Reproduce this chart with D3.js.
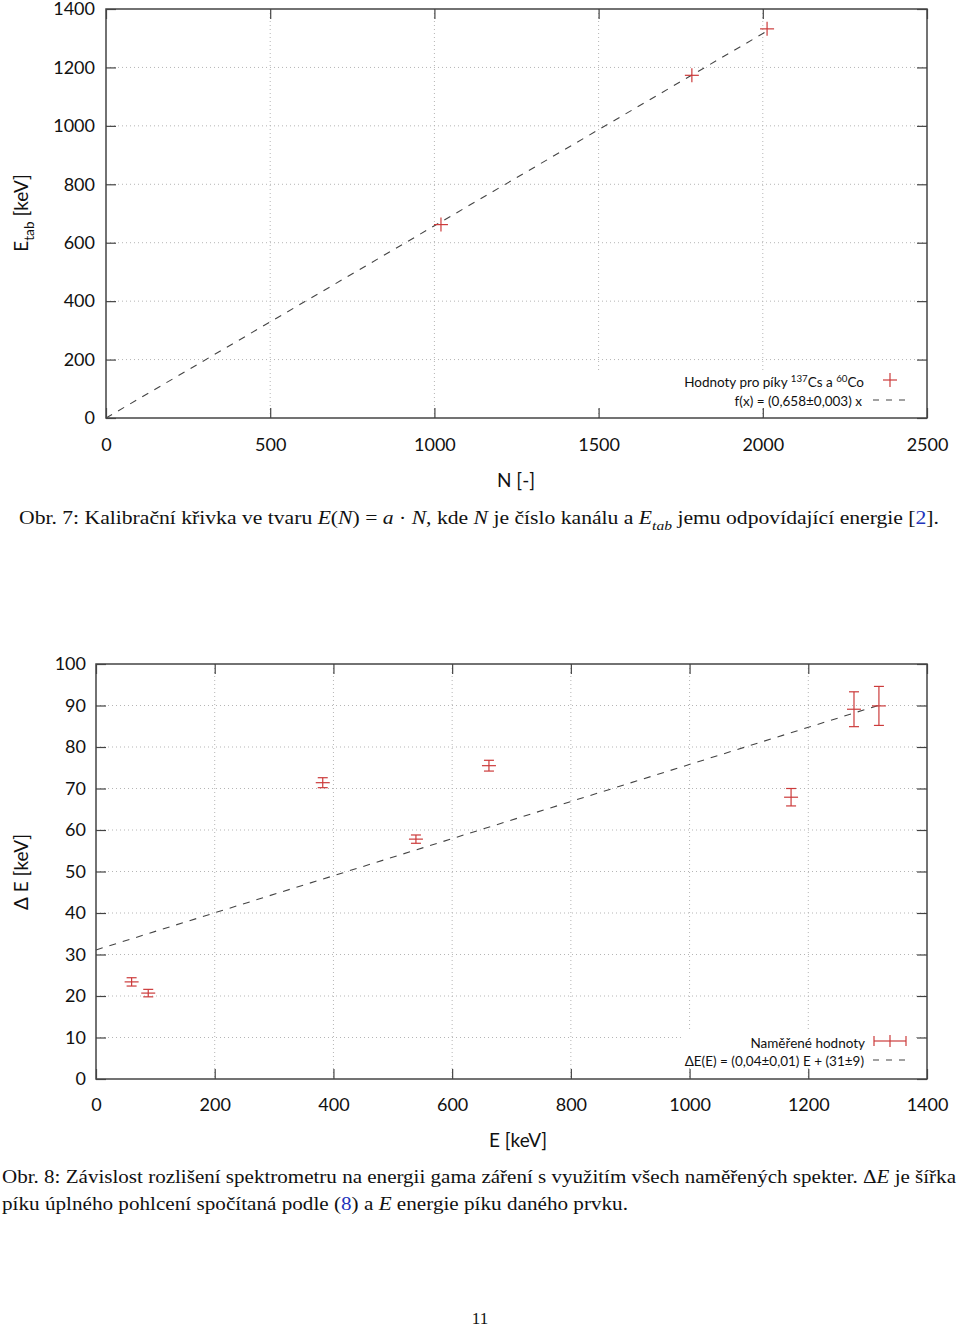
<!DOCTYPE html>
<html>
<head>
<meta charset="utf-8">
<style>
  body { margin: 0; background: #fff; }
  svg { display: block; }
</style>
</head>
<body></body>
<script src="https://d3js.org/d3.v7.min.js"></script>
<script>
  // --- data: calibration (Obr. 7) ---
  const channels = [1020, 1784, 2013]
  const energiesTab = [662, 1173, 1332]
  const calibSlope = 0.658
  const calibXTicks = [0, 500, 1000, 1500, 2000, 2500]
  const calibYTicks = [0, 200, 400, 600, 800, 1000, 1200, 1400]

  // --- data: resolution (Obr. 8) ---
  const energies = [60, 88, 382, 539, 662, 1171, 1277, 1319]
  const peakWidths = [23.4, 20.7, 71.4, 57.8, 75.5, 67.9, 89.1, 89.9]
  const peakWidthErrs = [1.0, 0.9, 1.2, 1.0, 1.3, 2.1, 4.2, 4.7]
  const resSlope = 0.0447
  const resIntercept = 31.1
  const resXTicks = [0, 200, 400, 600, 800, 1000, 1200, 1400]
  const resYTicks = [0, 10, 20, 30, 40, 50, 60, 70, 80, 90, 100]

  const W = 960, H = 1328
  const red = '#cc3b3b'
  const axisCol = '#444'
  const gridCol = '#b5b5b5'
  const sans = 'Lato, "Open Sans", sans-serif'
  const serif = '"Liberation Serif", "DejaVu Serif", serif'

  const svg = d3.select('body').append('svg')
    .attr('width', W).attr('height', H)
  svg.append('rect').attr('width', W).attr('height', H).attr('fill', '#fff')

  // rich text helper: segments {t, i, sub, sup, c}
  function richText(parent, x, y, segs, opts) {
    const t = parent.append('text')
      .attr('x', x).attr('y', y)
      .attr('font-family', opts.font)
      .attr('font-size', opts.size)
      .attr('fill', '#111')
      .attr('text-anchor', opts.anchor || 'start')
    if (opts.length) t.attr('textLength', opts.length).attr('lengthAdjust', 'spacingAndGlyphs')
    let shift = 0
    segs.forEach(s => {
      const target = s.sub ? opts.size * 0.3 : s.sup ? -opts.size * 0.4 : 0
      const sp = t.append('tspan').text(s.t).attr('dy', target - shift)
      shift = target
      if (s.i) sp.attr('font-style', 'italic')
      if (s.sub || s.sup) sp.attr('font-size', opts.size * 0.72)
      if (s.c) sp.attr('fill', s.c)
    })
    return t
  }

  function plusMark(g, cx, cy, s) {
    g.append('line').attr('x1', cx - s).attr('x2', cx + s).attr('y1', cy).attr('y2', cy)
    g.append('line').attr('x1', cx).attr('x2', cx).attr('y1', cy - s).attr('y2', cy + s)
  }

  function frame(cfg) {
    const { x, y, xTicks, yTicks, xPad, yPad } = cfg
    const [l, r] = x.range()
    const [b, t] = y.range()
    const g = svg.append('g')
    const fmt = d3.format('d')

    // grid
    const grid = g.append('g').attr('stroke', gridCol).attr('stroke-width', 1)
      .attr('stroke-dasharray', '1,3')
    xTicks.slice(1, -1).forEach(v => grid.append('line')
      .attr('x1', x(v)).attr('x2', x(v)).attr('y1', t).attr('y2', b))
    yTicks.slice(1, -1).forEach(v => grid.append('line')
      .attr('x1', l).attr('x2', r).attr('y1', y(v)).attr('y2', y(v)))

    // legend background hides the grid
    g.append('rect').attr('x', cfg.legendBox[0]).attr('y', cfg.legendBox[1])
      .attr('width', cfg.legendBox[2]).attr('height', cfg.legendBox[3]).attr('fill', '#fff')

    // axes with labels, inward ticks
    g.append('g').attr('transform', `translate(0,${b})`)
      .call(d3.axisBottom(x).tickValues(xTicks).tickSize(-10).tickPadding(xPad).tickFormat(fmt))
      .call(a => a.select('.domain').remove())
    g.append('g').attr('transform', `translate(${l},0)`)
      .call(d3.axisLeft(y).tickValues(yTicks).tickSize(-10).tickPadding(yPad).tickFormat(fmt))
      .call(a => a.select('.domain').remove())
    g.append('g').attr('transform', `translate(0,${t})`)
      .call(d3.axisTop(x).tickValues(xTicks).tickSize(-10).tickFormat(''))
      .call(a => a.select('.domain').remove())
    g.append('g').attr('transform', `translate(${r},0)`)
      .call(d3.axisRight(y).tickValues(yTicks).tickSize(-10).tickFormat(''))
      .call(a => a.select('.domain').remove())
    g.selectAll('.tick line').attr('stroke', axisCol).attr('stroke-width', 1.2)
    g.selectAll('.tick text').attr('font-family', sans).attr('font-size', 18).attr('fill', '#111')

    g.append('rect').attr('x', l).attr('y', t).attr('width', r - l).attr('height', b - t)
      .attr('fill', 'none').attr('stroke', axisCol).attr('stroke-width', 1.5)
    return g
  }

  // ================= Obr. 7 =================
  const x1 = d3.scaleLinear().domain([0, 2500]).range([106, 927])
  const y1 = d3.scaleLinear().domain([0, 1400]).range([418, 9])
  const g1 = frame({ x: x1, y: y1, xTicks: calibXTicks, yTicks: calibYTicks, xPad: 20, yPad: 11,
    legendBox: [596, 372, 318, 34] })

  const fit1 = d3.line().x(d => x1(d)).y(d => y1(calibSlope * d))
  g1.append('path').attr('d', fit1([0, d3.max(channels)]))
    .attr('fill', 'none').attr('stroke', '#444').attr('stroke-width', 1.1)
    .attr('stroke-dasharray', '7,7')

  const pts1 = g1.append('g').attr('stroke', red).attr('stroke-width', 1.2)
  channels.forEach((c, i) => plusMark(pts1, x1(c), y1(energiesTab[i]), 7))

  // legend
  richText(g1, 864, 387, [{ t: 'Hodnoty pro píky ' }, { t: '137', sup: 1 }, { t: 'Cs a ' }, { t: '60', sup: 1 }, { t: 'Co' }],
    { font: sans, size: 13.5, anchor: 'end' })
  richText(g1, 862, 406, [{ t: 'f(x) = (0,658±0,003) x' }], { font: sans, size: 13.5, anchor: 'end' })
  const lg1 = g1.append('g').attr('stroke', red).attr('stroke-width', 1.2)
  plusMark(lg1, 890, 380, 7)
  g1.append('line').attr('x1', 873).attr('x2', 908).attr('y1', 400).attr('y2', 400)
    .attr('stroke', '#444').attr('stroke-width', 1.1).attr('stroke-dasharray', '6,7')

  // axis titles
  richText(svg.append('g').attr('transform', 'translate(28,213) rotate(-90)'), 0, 0,
    [{ t: 'E' }, { t: 'tab', sub: 1 }, { t: ' [keV]' }], { font: sans, size: 19, anchor: 'middle' })
  richText(svg, 516, 487, [{ t: 'N [-]' }], { font: sans, size: 19, anchor: 'middle' })

  // caption
  richText(svg, 19, 524, [
    { t: 'Obr. 7: Kalibrační křivka ve tvaru ' }, { t: 'E', i: 1 }, { t: '(' }, { t: 'N', i: 1 },
    { t: ') = ' }, { t: 'a', i: 1 }, { t: ' · ' }, { t: 'N', i: 1 }, { t: ', kde ' }, { t: 'N', i: 1 },
    { t: ' je číslo kanálu a ' }, { t: 'E', i: 1 }, { t: 'tab', i: 1, sub: 1 },
    { t: ' jemu odpovídající energie [' }, { t: '2', c: '#2233bb' }, { t: '].' }
  ], { font: serif, size: 18.5, length: 920 })

  // ================= Obr. 8 =================
  const x2 = d3.scaleLinear().domain([0, 1400]).range([96, 927])
  const y2 = d3.scaleLinear().domain([0, 100]).range([1079, 664])
  const g2 = frame({ x: x2, y: y2, xTicks: resXTicks, yTicks: resYTicks, xPad: 19, yPad: 10,
    legendBox: [684, 1030, 230, 37] })

  const fit2 = d3.line().x(d => x2(d)).y(d => y2(resIntercept + resSlope * d))
  g2.append('path').attr('d', fit2([0, d3.max(energies)]))
    .attr('fill', 'none').attr('stroke', '#444').attr('stroke-width', 1.1)
    .attr('stroke-dasharray', '7,7')

  const pts2 = g2.append('g').attr('stroke', red).attr('stroke-width', 1.2)
  energies.forEach((e, i) => {
    const cx = x2(e), cy = y2(peakWidths[i])
    const top = y2(peakWidths[i] + peakWidthErrs[i]), bot = y2(peakWidths[i] - peakWidthErrs[i])
    pts2.append('line').attr('x1', cx).attr('x2', cx).attr('y1', top).attr('y2', bot)
    pts2.append('line').attr('x1', cx - 5).attr('x2', cx + 5).attr('y1', top).attr('y2', top)
    pts2.append('line').attr('x1', cx - 5).attr('x2', cx + 5).attr('y1', bot).attr('y2', bot)
    pts2.append('line').attr('x1', cx - 7).attr('x2', cx + 7).attr('y1', cy).attr('y2', cy)
  })

  // legend
  richText(g2, 865, 1048, [{ t: 'Naměřené hodnoty' }], { font: sans, size: 13.5, anchor: 'end' })
  richText(g2, 864, 1066, [{ t: 'ΔE(E) = (0,04±0,01) E + (31±9)' }], { font: sans, size: 13.5, anchor: 'end' })
  const lg2 = g2.append('g').attr('stroke', red).attr('stroke-width', 1.2)
  lg2.append('line').attr('x1', 874).attr('x2', 906).attr('y1', 1041).attr('y2', 1041)
  lg2.append('line').attr('x1', 874).attr('x2', 874).attr('y1', 1036).attr('y2', 1046)
  lg2.append('line').attr('x1', 906).attr('x2', 906).attr('y1', 1036).attr('y2', 1046)
  lg2.append('line').attr('x1', 890).attr('x2', 890).attr('y1', 1035).attr('y2', 1047)
  g2.append('line').attr('x1', 873).attr('x2', 908).attr('y1', 1060).attr('y2', 1060)
    .attr('stroke', '#444').attr('stroke-width', 1.1).attr('stroke-dasharray', '6,7')

  // axis titles
  richText(svg.append('g').attr('transform', 'translate(28,872) rotate(-90)'), 0, 0,
    [{ t: 'Δ E [keV]' }], { font: sans, size: 19, anchor: 'middle' })
  richText(svg, 518, 1147, [{ t: 'E [keV]' }], { font: sans, size: 19, anchor: 'middle' })

  // caption
  richText(svg, 2, 1183, [
    { t: 'Obr. 8: Závislost rozlišení spektrometru na energii gama záření s využitím všech naměřených spekter. ' },
    { t: 'Δ' }, { t: 'E', i: 1 }, { t: ' je šířka' }
  ], { font: serif, size: 18.5, length: 954 })
  richText(svg, 2, 1210, [
    { t: 'píku úplného pohlcení spočítaná podle (' }, { t: '8', c: '#2233bb' }, { t: ') a ' },
    { t: 'E', i: 1 }, { t: ' energie píku daného prvku.' }
  ], { font: serif, size: 18.5, length: 626 })

  // page number
  richText(svg, 480, 1324, [{ t: '11' }], { font: serif, size: 17, anchor: 'middle' })
</script>
</html>
